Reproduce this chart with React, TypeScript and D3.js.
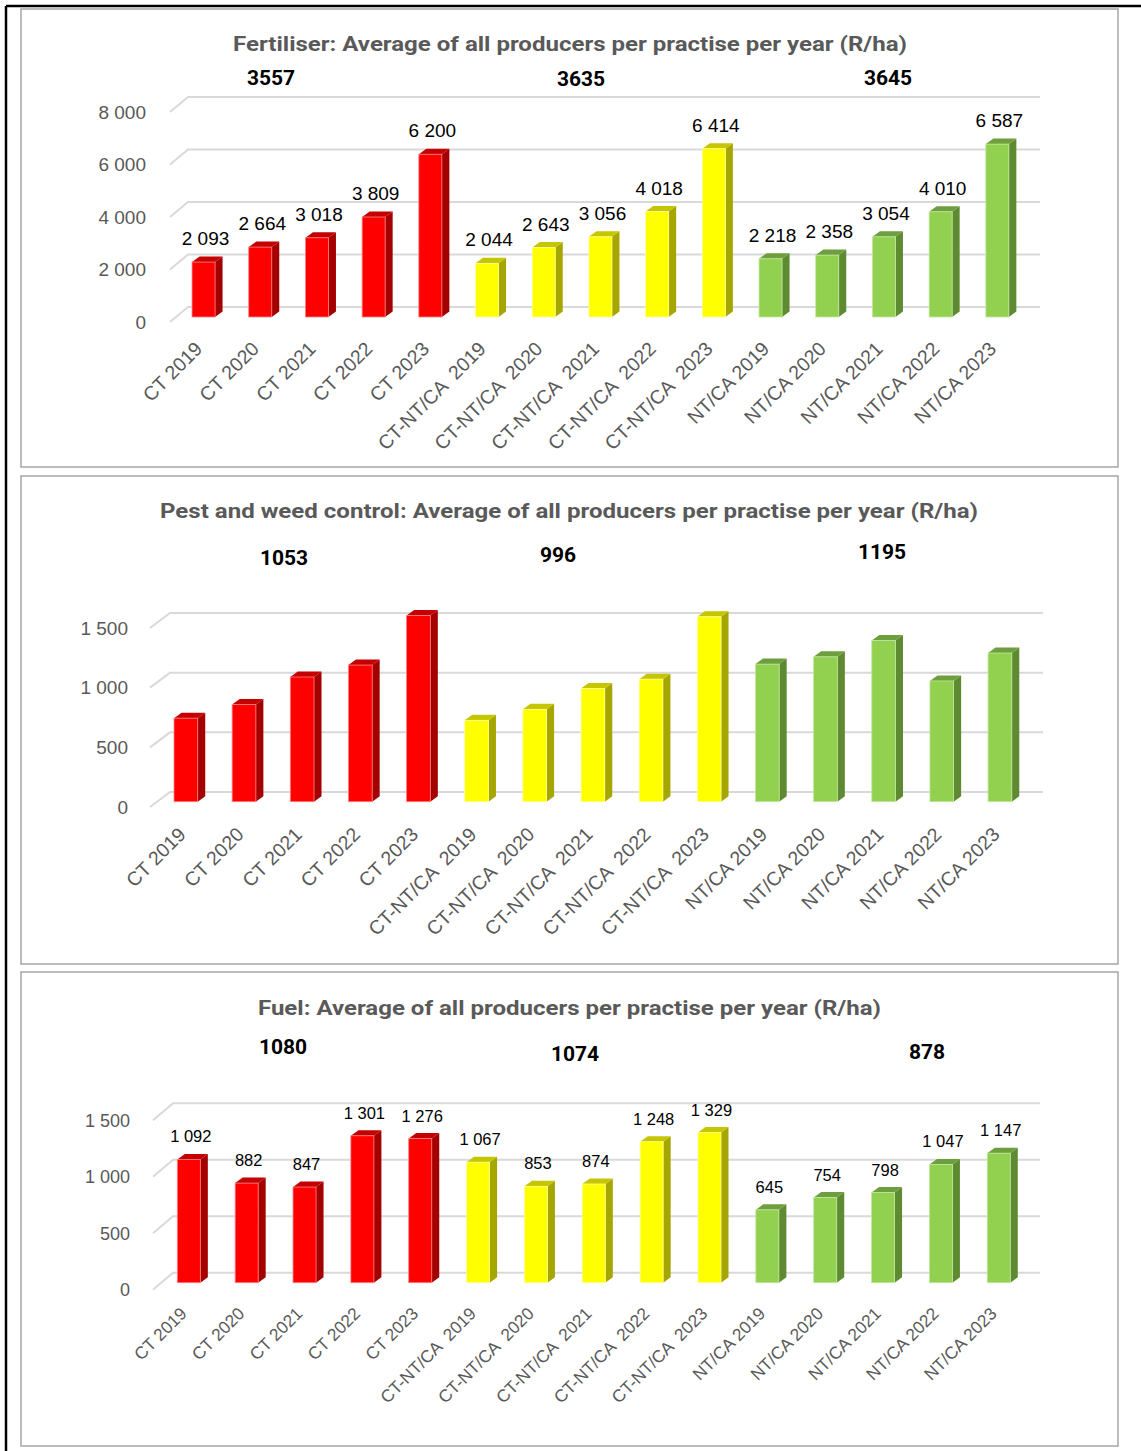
import React from "react";
import * as d3 from "d3";

// Practice / year categories shared by all three panels
const categories = [
  "CT 2019", "CT 2020", "CT 2021", "CT 2022", "CT 2023",
  "CT-NT/CA  2019", "CT-NT/CA  2020", "CT-NT/CA  2021", "CT-NT/CA  2022", "CT-NT/CA  2023",
  "NT/CA 2019", "NT/CA 2020", "NT/CA 2021", "NT/CA 2022", "NT/CA 2023",
];

// Practice group of each category (0 = CT, 1 = CT-NT/CA, 2 = NT/CA)
const practiceGroup = [0, 0, 0, 0, 0, 1, 1, 1, 1, 1, 2, 2, 2, 2, 2];

// R/ha values
const fertiliser = [2093, 2664, 3018, 3809, 6200, 2044, 2643, 3056, 4018, 6414, 2218, 2358, 3054, 4010, 6587];
const pestWeed = [700, 815, 1045, 1145, 1560, 682, 774, 948, 1027, 1550, 1153, 1214, 1350, 1012, 1246];
const fuel = [1092, 882, 847, 1301, 1276, 1067, 853, 874, 1248, 1329, 645, 754, 798, 1047, 1147];

// Five-year averages per practice
const fertiliserAvg = [3557, 3635, 3645];
const pestWeedAvg = [1053, 996, 1195];
const fuelAvg = [1080, 1074, 878];

// Axis ticks
const fertiliserTicks = [0, 2000, 4000, 6000, 8000];
const pestWeedTicks = [0, 500, 1000, 1500];
const fuelTicks = [0, 500, 1000, 1500];

// Colours per practice: front, side, top
const palette = [
  { front: "#FF0000", side: "#A50000", top: "#C40000", edge: "#FF8080" },
  { front: "#FFFF00", side: "#A6A600", top: "#C6C600", edge: "#FFFF99" },
  { front: "#92D050", side: "#5E8A32", top: "#6E9E3E", edge: "#C2E6A0" },
];

const fmt = (v: number) => d3.format(",")(v).replace(/,/g, " ");

type PanelCfg = {
  box: [number, number, number, number];
  title: string;
  titleX: number;
  titleY: number;
  titleLen: number;
  values: number[];
  averages: number[];
  avgPos: [number, number][];
  ticks: number[];
  back0: number; // y of zero on the back wall
  top: number; // y of max tick on the back wall
  frontDrop: number; // bar base below back wall zero
  gridX0: number;
  gridX1: number;
  diagDx: number;
  diagDy: number;
  tickRight: number;
  tickSize: number;
  xRange: [number, number];
  barPad: number;
  showValues: boolean;
  valueSize: number;
  labelSize: number;
  labelDx: number;
  labelDy: number;
};

const panels: PanelCfg[] = [
  {
    box: [21, 9, 1097, 458],
    title: "Fertiliser: Average of all producers per practise per year (R/ha)",
    titleX: 570, titleY: 51, titleLen: 674,
    values: fertiliser, averages: fertiliserAvg,
    avgPos: [[271, 85], [581, 86], [888, 85]],
    ticks: fertiliserTicks,
    back0: 307, top: 97, frontDrop: 10,
    gridX0: 188, gridX1: 1040, diagDx: 18, diagDy: 15,
    tickRight: 146, tickSize: 19,
    xRange: [175.2, 1025.7], barPad: 0.594,
    showValues: true, valueSize: 19,
    labelSize: 19.5, labelDx: 0, labelDy: 33,
  },
  {
    box: [21, 476, 1097, 488],
    title: "Pest and weed control: Average of all producers per practise per year (R/ha)",
    titleX: 569, titleY: 518, titleLen: 818,
    values: pestWeed, averages: pestWeedAvg,
    avgPos: [[284, 565], [558, 562], [882, 559]],
    ticks: pestWeedTicks,
    back0: 792, top: 613, frontDrop: 9.7,
    gridX0: 170, gridX1: 1043, diagDx: 20, diagDy: 15,
    tickRight: 128, tickSize: 19,
    xRange: [156.8, 1029], barPad: 0.592,
    showValues: false, valueSize: 19,
    labelSize: 19.5, labelDx: 1, labelDy: 34,
  },
  {
    box: [21, 972, 1097, 474],
    title: "Fuel: Average of all producers per practise per year (R/ha)",
    titleX: 569.5, titleY: 1015, titleLen: 623,
    values: fuel, averages: fuelAvg,
    avgPos: [[283, 1054], [575, 1061], [927, 1059]],
    ticks: fuelTicks,
    back0: 1272.7, top: 1103.3, frontDrop: 10,
    gridX0: 173, gridX1: 1040, diagDx: 20, diagDy: 17,
    tickRight: 130, tickSize: 18,
    xRange: [159.9, 1027.7], barPad: 0.602,
    showValues: true, valueSize: 16.5,
    labelSize: 17.3, labelDx: -1, labelDy: 32,
  },
];

const FONT = "'Liberation Sans', Arial, sans-serif";
const BOLD_FONT = "Roboto, 'Liberation Sans', Arial, sans-serif";
const DX = 7.5; // bar depth, horizontal
const DY = 5.5; // bar depth, vertical

function Panel({ cfg }: { cfg: PanelCfg }) {
  const maxTick = cfg.ticks[cfg.ticks.length - 1];
  const yBack = d3.scaleLinear().domain([0, maxTick]).range([cfg.back0, cfg.top]);
  const yFront = d3
    .scaleLinear()
    .domain([0, maxTick])
    .range([cfg.back0 + cfg.frontDrop, cfg.top + cfg.frontDrop]);
  const x = d3
    .scaleBand<string>()
    .domain(categories)
    .range(cfg.xRange)
    .paddingInner(cfg.barPad)
    .paddingOuter(cfg.barPad / 2);
  const w = x.bandwidth();
  const base = yFront(0);
  const [bx, by, bw, bh] = cfg.box;

  return (
    <g>
      <rect x={bx} y={by} width={bw} height={bh} fill="#fff" stroke="#A6A6A6" strokeWidth={1.5} />
      <text
        x={cfg.titleX}
        y={cfg.titleY}
        textAnchor="middle"
        fontFamily={BOLD_FONT}
        fontWeight={700}
        fontSize={20}
        fill="#595959"
        textLength={cfg.titleLen}
        lengthAdjust="spacingAndGlyphs"
      >
        {cfg.title}
      </text>
      {cfg.averages.map((a, i) => (
        <text
          key={"avg" + i}
          x={cfg.avgPos[i][0]}
          y={cfg.avgPos[i][1]}
          textAnchor="middle"
          fontFamily={BOLD_FONT}
          fontWeight={700}
          fontSize={21}
          fill="#000"
        >
          {a}
        </text>
      ))}
      {/* back wall gridlines with floor diagonals */}
      {cfg.ticks.map((t) => {
        const yy = yBack(t);
        return (
          <g key={"g" + t}>
            <path
              d={`M${cfg.gridX0 - cfg.diagDx},${yy + cfg.diagDy}L${cfg.gridX0},${yy}L${cfg.gridX1},${yy}`}
              fill="none"
              stroke="#D9D9D9"
              strokeWidth={2}
            />
            <text
              x={cfg.tickRight}
              y={yy + cfg.diagDy}
              dy="0.35em"
              textAnchor="end"
              fontFamily={FONT}
              fontSize={cfg.tickSize}
              fill="#595959"
            >
              {fmt(t)}
            </text>
          </g>
        );
      })}
      {/* 3D columns */}
      {cfg.values.map((v, i) => {
        const c = palette[practiceGroup[i]];
        const x0 = x(categories[i]) as number;
        const yt = yFront(v);
        return (
          <g key={"b" + i}>
            <polygon
              points={`${x0 + w},${yt} ${x0 + w + DX},${yt - DY} ${x0 + w + DX},${base - DY} ${x0 + w},${base}`}
              fill={c.side}
            />
            <polygon
              points={`${x0},${yt} ${x0 + DX},${yt - DY} ${x0 + w + DX},${yt - DY} ${x0 + w},${yt}`}
              fill={c.top}
            />
            <rect x={x0} y={yt} width={w} height={base - yt} fill={c.front} stroke={c.edge} strokeWidth={0.8} />
            {cfg.showValues && (
              <text
                x={x0 + w / 2 + 2}
                y={yt - 17}
                textAnchor="middle"
                fontFamily={FONT}
                fontSize={cfg.valueSize}
                fill="#000"
              >
                {fmt(v)}
              </text>
            )}
          </g>
        );
      })}
      {/* rotated category labels */}
      {categories.map((cat, i) => {
        const cx = (x(cat) as number) + w / 2 + cfg.labelDx;
        const cy = base + cfg.labelDy;
        return (
          <text
            key={"l" + i}
            x={cx}
            y={cy}
            transform={`rotate(-45 ${cx} ${cy})`}
            textAnchor="end"
            fontFamily={FONT}
            fontSize={cfg.labelSize}
            fill="#595959"
            style={{ whiteSpace: "pre" }}
          >
            {cat}
          </text>
        );
      })}
    </g>
  );
}

export default function App() {
  return (
    <svg
      width={1141}
      height={1451}
      style={{ position: "absolute", left: 0, top: 0, background: "#fff" }}
    >
      <rect width={1141} height={1451} fill="#fff" />
      {/* page frame */}
      <line x1={6} y1={6} x2={1141} y2={6} stroke="#000" strokeWidth={2.5} />
      <line x1={6} y1={6} x2={6} y2={1451} stroke="#000" strokeWidth={2.5} />
      {panels.map((p, i) => (
        <Panel key={i} cfg={p} />
      ))}
    </svg>
  );
}
